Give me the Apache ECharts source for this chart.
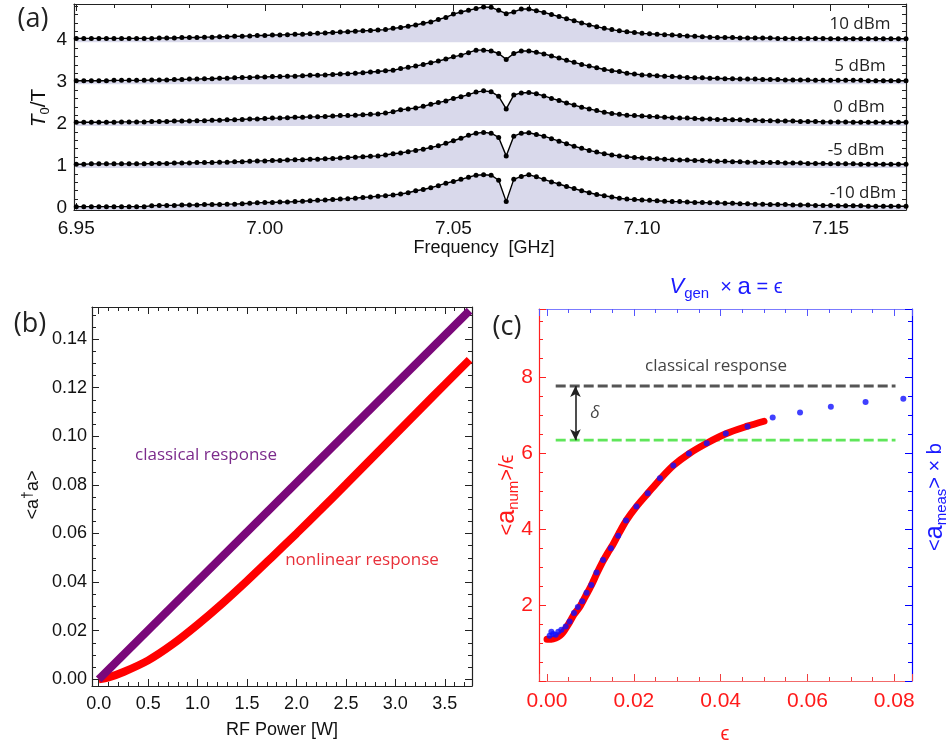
<!DOCTYPE html>
<html>
<head>
<meta charset="utf-8">
<script src="https://cdn.jsdelivr.net/npm/echarts@6.0.0/dist/echarts.min.js"></script>
<style>
html,body{margin:0;padding:0;background:#fff;}
#chart{width:952px;height:745px;}
</style>
</head>
<body>
<div id="chart"></div>
<script>
// ---------------- Panel (a): transmission traces ----------------
const freqStartGHz = 6.95;
const freqStepGHz = 0.002;
const traceLabels = ['-10 dBm', '-5 dBm', '0 dBm', '5 dBm', '10 dBm'];
const traceOffsets = [0, 1, 2, 3, 4];
const trace_m10dBm = [0.02,0.02,0.02,0.02,0.02,0.02,0.02,0.02,0.02,0.02,
0.04,0.05,0.05,0.05,0.06,0.06,0.06,0.07,0.07,0.07,0.08,0.08,0.09,0.10,
0.11,0.12,0.12,0.13,0.13,0.14,
0.15,0.16,0.17,0.18,0.19,0.20,0.21,0.22,0.24,0.25,0.27,
0.28,0.30,0.32,0.35,0.40,0.43,0.47,0.52,0.58,0.62,0.67,0.72,0.77,0.78,0.77,0.65,0.14,0.67,0.74,0.78,0.73,
0.67,0.61,0.56,0.50,0.45,0.40,0.35,0.31,0.28,0.25,0.22,
0.20,0.19,0.18,0.17,0.16,0.15,0.14,0.14,0.13,0.12,0.12,0.11,0.11,
0.10,0.10,0.09,0.09,0.08,0.08,0.07,0.07,0.07,0.06,0.06,0.06,0.05,0.05,0.05,0.04,0.04,0.04,0.04,0.03,0.03,0.03,0.03,0.03,0.03];
const trace_m5dBm = [1.03,1.03,1.04,1.04,1.04,1.04,1.04,1.04,1.04,1.04,
1.05,1.05,1.05,1.06,1.06,1.06,1.07,1.07,1.07,1.08,1.08,1.09,1.09,1.10,
1.11,1.11,1.12,1.12,1.13,1.14,
1.14,1.15,1.15,1.16,1.17,1.18,1.19,1.20,1.21,1.22,1.23,
1.25,1.28,1.30,1.33,1.36,1.39,1.43,1.47,1.53,1.59,1.65,1.72,1.77,1.79,1.77,1.67,1.23,1.70,1.77,1.78,1.74,
1.70,1.64,1.58,1.52,1.46,1.41,1.36,1.32,1.28,1.25,1.23,
1.21,1.19,1.18,1.17,1.16,1.15,1.14,1.13,1.13,1.12,1.12,1.11,1.10,
1.10,1.09,1.09,1.08,1.08,1.07,1.07,1.07,1.06,1.06,1.06,1.05,1.05,1.05,1.04,1.04,1.04,1.04,1.03,1.03,1.03,1.03,1.03,1.03,1.03];
const trace_0dBm = [2.03,2.03,2.03,2.03,2.03,2.03,2.04,2.04,2.04,2.04,
2.05,2.05,2.05,2.06,2.06,2.06,2.07,2.07,2.08,2.08,2.09,2.09,2.10,2.11,
2.11,2.12,2.13,2.13,2.14,2.15,
2.15,2.16,2.16,2.17,2.18,2.19,2.19,2.20,2.21,2.22,2.23,
2.25,2.28,2.33,2.35,2.37,2.41,2.46,2.50,2.54,2.60,2.64,2.69,2.75,2.78,2.76,2.65,2.35,2.68,2.73,2.74,2.71,
2.66,2.60,2.55,2.49,2.44,2.39,2.35,2.31,2.27,2.24,2.22,
2.20,2.19,2.18,2.17,2.16,2.15,2.14,2.13,2.13,2.12,2.11,2.11,2.10,
2.10,2.09,2.09,2.08,2.08,2.07,2.07,2.06,2.06,2.06,2.05,2.05,2.05,2.04,2.04,2.04,2.04,2.03,2.03,2.03,2.03,2.03,2.03,2.03,2.03];
const trace_5dBm = [3.02,3.02,3.02,3.02,3.02,3.03,3.03,3.03,3.03,3.03,
3.04,3.04,3.04,3.05,3.05,3.06,3.06,3.07,3.07,3.08,3.08,3.09,3.10,3.10,
3.11,3.11,3.12,3.12,3.13,3.13,
3.14,3.15,3.15,3.16,3.17,3.18,3.19,3.20,3.21,3.23,3.24,
3.26,3.27,3.31,3.34,3.37,3.41,3.45,3.49,3.54,3.59,3.63,3.69,3.75,3.75,3.73,3.67,3.53,3.67,3.73,3.73,3.70,
3.66,3.61,3.56,3.51,3.46,3.41,3.37,3.33,3.29,3.26,3.24,
3.20,3.18,3.16,3.15,3.14,3.13,3.12,3.11,3.10,3.09,3.09,3.08,3.08,
3.07,3.07,3.06,3.06,3.06,3.05,3.05,3.05,3.04,3.04,3.04,3.04,3.03,3.03,3.03,3.03,3.03,3.03,3.03,3.02,3.02,3.02,3.02,3.02,3.02];
const trace_10dBm = [4.03,4.03,4.03,4.03,4.03,4.03,4.03,4.03,4.03,4.03,
4.03,4.04,4.04,4.04,4.05,4.05,4.05,4.06,4.06,4.07,4.07,4.08,4.08,4.09,
4.10,4.10,4.11,4.11,4.12,4.13,
4.13,4.14,4.15,4.16,4.17,4.18,4.19,4.20,4.21,4.22,4.23,
4.24,4.27,4.29,4.32,4.35,4.39,4.42,4.48,4.53,4.61,4.66,4.70,4.74,4.78,4.77,4.70,4.62,4.66,4.73,4.73,4.69,
4.65,4.60,4.55,4.50,4.45,4.40,4.35,4.31,4.27,4.24,4.21,
4.19,4.17,4.15,4.14,4.13,4.12,4.11,4.10,4.09,4.08,4.07,4.06,4.05,
4.05,4.05,4.04,4.04,4.04,4.04,4.04,4.03,4.03,4.03,4.03,4.03,4.03,4.03,4.02,4.02,4.02,4.02,4.02,4.02,4.02,4.02,4.02,4.02,4.02];

// ---------------- Panel (b): photon number vs RF power ----------------
const rfPowerClassical = [0, 3.75];
const nClassical = [0, 0.1517];
const rfPowerNonlinear = [0, 0.1, 0.25, 0.5, 0.75, 1.0, 1.25, 1.5, 1.75, 2.0, 2.25, 2.5, 2.75, 3.0, 3.25, 3.5, 3.75];
const nNonlinear = [0, 0.0008, 0.0030, 0.0078, 0.0145, 0.0225, 0.0312, 0.0405, 0.0502, 0.0600, 0.0700, 0.0802, 0.0905, 0.1008, 0.1111, 0.1213, 0.1315];

// ---------------- Panel (c): normalised response vs epsilon ----------------
const epsNum = [0.0000,0.0010,0.0020,0.0030,0.0037,0.0045,0.0052,0.0062,0.0075,0.0088,0.0102,0.0115,0.0129,0.0140,0.0152,0.0165,0.0183,0.0206,0.0233,0.0262,0.0292,0.0328,0.0368,0.0412,0.0462,0.0500];
const aNum = [1.10,1.10,1.13,1.20,1.28,1.42,1.55,1.75,1.95,2.22,2.52,2.84,3.16,3.38,3.60,3.88,4.24,4.60,4.96,5.34,5.69,6.00,6.27,6.52,6.72,6.85];
const epsMeas = [0.0006,0.0010,0.0014,0.0020,0.0026,0.0033,0.0043,0.0052,0.0062,0.0071,0.0081,0.0091,0.0102,0.0114,0.0129,0.0147,0.0164,0.0182,0.0206,0.0232,0.0260,0.0291,0.0327,0.0368,0.0412,0.0462,0.0520,0.0583,0.0654,0.0734,0.0821];
const aMeas = [1.19,1.30,1.24,1.22,1.30,1.35,1.44,1.57,1.79,1.95,2.10,2.33,2.53,2.86,3.19,3.50,3.83,4.23,4.60,4.95,5.35,5.68,6.00,6.27,6.53,6.71,6.95,7.08,7.23,7.36,7.44];
const classicalLevel = 7.78;
const saturationLevel = 6.35;
const levelEpsRange = [0.002, 0.0803];
const deltaEps = 0.00655;

// ---------------- build ----------------
const chart = echarts.init(document.getElementById('chart'), null, {renderer: 'canvas'});
const TICKFONT = 'Liberation Sans, Arial, sans-serif';
const ANNFONT = '"Open Sans", "Noto Sans", sans-serif';

function valAxis(o) {
  const c = o.color || '#222';
  return {
    type: 'value', gridIndex: o.grid, position: o.pos,
    min: o.min, max: o.max, minInterval: o.step, maxInterval: o.step, splitNumber: 5,
    axisLine: {show: true, onZero: false, lineStyle: {color: c, width: 1.2}},
    axisTick: {show: true, inside: true, length: 7, lineStyle: {color: o.tickColor || c, width: 1}},
    minorTick: {show: true, splitNumber: o.minor, length: 4, lineStyle: {color: o.tickColor || c, width: 1}},
    splitLine: {show: false},
    axisLabel: o.labels ? {
      show: true, showMinLabel: false, showMaxLabel: false,
      formatter: o.fmt, fontSize: o.fontSize || 19, fontFamily: TICKFONT,
      color: o.labelColor || '#111', margin: o.margin
    } : {show: false}
  };
}

const xAxes = [
  valAxis({grid: 0, pos: 'bottom', min: 6.9494, max: 7.17, step: 0.05, minor: 5, labels: true, fmt: v => v.toFixed(2), margin: 9}),
  valAxis({grid: 0, pos: 'top', min: 6.9494, max: 7.17, step: 0.05, minor: 5, labels: false}),
  valAxis({grid: 1, pos: 'bottom', min: -0.068, max: 3.775, step: 0.5, minor: 5, labels: true, fmt: v => v.toFixed(1), margin: 9, fontSize: 18}),
  valAxis({grid: 1, pos: 'top', min: -0.068, max: 3.775, step: 0.5, minor: 5, labels: false}),
  valAxis({grid: 2, pos: 'bottom', min: -0.00185, max: 0.0841, step: 0.02, minor: 4, labels: true, fmt: v => v.toFixed(2), margin: 10, fontSize: 21, color: '#f26b6b', tickColor: '#f04040', labelColor: '#ff1a1a'}),
  valAxis({grid: 2, pos: 'top', min: -0.00185, max: 0.0841, step: 0.02, minor: 4, labels: false, color: '#7b7bff', tickColor: '#5555ff'})
];
const yAxes = [
  valAxis({grid: 0, pos: 'left', min: -0.06, max: 4.85, step: 1, minor: 5, labels: true, fmt: v => String(Math.round(v)), margin: 7}),
  valAxis({grid: 0, pos: 'right', min: -0.06, max: 4.85, step: 1, minor: 5, labels: false}),
  valAxis({grid: 1, pos: 'left', min: -0.00275, max: 0.1532, step: 0.02, minor: 4, labels: true, fmt: v => v.toFixed(2), margin: 5, fontSize: 18}),
  valAxis({grid: 1, pos: 'right', min: -0.00275, max: 0.1532, step: 0.02, minor: 4, labels: false}),
  valAxis({grid: 2, pos: 'left', min: 0, max: 9.81, step: 2, minor: 4, labels: true, fmt: v => String(Math.round(v)), margin: 6, fontSize: 21, color: '#ff2020', labelColor: '#ff1a1a'}),
  valAxis({grid: 2, pos: 'right', min: 0, max: 9.81, step: 2, minor: 4, labels: false, color: '#0000ff'})
];

const freqs = trace_m10dBm.map((_, i) => +(freqStartGHz + i * freqStepGHz).toFixed(3));
const traces = [trace_m10dBm, trace_m5dBm, trace_0dBm, trace_5dBm, trace_10dBm];
const series = [];
traces.forEach((tr, k) => {
  series.push({
    type: 'line', xAxisIndex: 0, yAxisIndex: 0,
    data: tr.map((v, i) => [freqs[i], v]),
    symbol: 'circle', symbolSize: 5, showSymbol: true,
    itemStyle: {color: '#000'},
    lineStyle: {color: '#000', width: 1.4},
    areaStyle: {color: '#d9d9eb', opacity: 1, origin: traceOffsets[k] - 0.06},
    silent: true, z: 2
  });
});

series.push({
  type: 'line', xAxisIndex: 2, yAxisIndex: 2,
  data: rfPowerClassical.map((x, i) => [x, nClassical[i]]),
  symbol: 'none', lineStyle: {color: '#7a087a', width: 8, cap: 'butt'}, silent: true, z: 3
});
series.push({
  type: 'line', xAxisIndex: 2, yAxisIndex: 2, smooth: 0.3,
  data: rfPowerNonlinear.map((x, i) => [x, nNonlinear[i]]),
  symbol: 'none', lineStyle: {color: '#ff0000', width: 8, cap: 'butt'}, silent: true, z: 2
});

// Panel (c)
series.push({
  type: 'line', xAxisIndex: 4, yAxisIndex: 4,
  data: levelEpsRange.map(x => [x, classicalLevel]),
  symbol: 'none', lineStyle: {color: '#555', width: 2.8, type: [10, 4]}, silent: true, z: 2,
  markLine: {
    silent: true, symbol: ['arrow', 'arrow'], symbolSize: [8, 11],
    label: {show: false},
    lineStyle: {color: '#222', width: 1.6, type: 'solid'},
    data: [[{coord: [deltaEps, classicalLevel]}, {coord: [deltaEps, saturationLevel]}]]
  }
});
series.push({
  type: 'line', xAxisIndex: 4, yAxisIndex: 4,
  data: levelEpsRange.map(x => [x, saturationLevel]),
  symbol: 'none', lineStyle: {color: '#5fe65a', width: 2.8, type: [10, 4]}, silent: true, z: 2
});
series.push({
  type: 'line', xAxisIndex: 4, yAxisIndex: 4, smooth: 0.3,
  data: epsNum.map((x, i) => [x, aNum[i]]),
  symbol: 'none', lineStyle: {color: '#ff0000', width: 7, cap: 'round'}, silent: true, z: 3
});
series.push({
  type: 'scatter', xAxisIndex: 4, yAxisIndex: 5,
  data: epsMeas.map((x, i) => [x, aMeas[i]]),
  symbol: 'circle', symbolSize: 6, itemStyle: {color: '#1010ff'}, silent: true, z: 4
});

function T(x, y, text, font, fill, extra) {
  return Object.assign({
    type: 'text', x: x, y: y, silent: true, z: 100,
    style: Object.assign({text: text, font: font, fill: fill, align: 'center', verticalAlign: 'middle'}, (extra && extra.style) || {})
  }, extra && extra.rotation != null ? {rotation: extra.rotation} : {});
}

const graphics = [
  T(33, 19, '(a)', '27px ' + ANNFONT, '#222'),
  T(30, 324, '(b)', '27px ' + ANNFONT, '#222'),
  T(507, 327, '(c)', '27px ' + ANNFONT, '#222'),
  T(860, 24, traceLabels[4], '17px ' + ANNFONT, '#222'),
  T(860, 66, traceLabels[3], '17px ' + ANNFONT, '#222'),
  T(859, 107, traceLabels[2], '17px ' + ANNFONT, '#222'),
  T(856, 150, traceLabels[1], '17px ' + ANNFONT, '#222'),
  T(863, 193, traceLabels[0], '17px ' + ANNFONT, '#222'),
  T(484, 248, 'Frequency  [GHz]', '18px ' + TICKFONT, '#111'),
  T(39, 108, '', '', '#111', {rotation: Math.PI / 2, style: {
    text: '{i|T}{s|0}{n|/T}',
    rich: {
      i: {fontSize: 21, fontStyle: 'italic', fontFamily: TICKFONT, lineHeight: 26, verticalAlign: 'middle', fill: '#111'},
      s: {fontSize: 13, fontFamily: TICKFONT, lineHeight: 12, verticalAlign: 'bottom', fill: '#111'},
      n: {fontSize: 21, fontFamily: TICKFONT, lineHeight: 26, verticalAlign: 'middle', fill: '#111'}
    }}}),
  T(282, 730, 'RF Power [W]', '18px ' + TICKFONT, '#111'),
  T(33, 495, '', '', '#111', {rotation: Math.PI / 2, style: {
    text: '{n|<a}{s|†}{n|a>}',
    rich: {
      n: {fontSize: 18, fontFamily: TICKFONT, lineHeight: 24, verticalAlign: 'middle', fill: '#111'},
      s: {fontSize: 14, fontFamily: TICKFONT, lineHeight: 12, verticalAlign: 'top', fill: '#111'}
    }}}),
  T(206, 455, 'classical response', '17px ' + ANNFONT, '#7b2a8b'),
  T(362, 560, 'nonlinear response', '17px ' + ANNFONT, '#e8303a'),
  T(716, 366, 'classical response', '17px ' + ANNFONT, '#444'),
  T(595, 413, 'δ', 'italic 17px ' + ANNFONT, '#444'),
  T(726, 287, '', '', '#1a1aff', {style: {
    text: '{v|V}{s|gen}{n|  × }{a|a}{n| = ϵ}',
    rich: {
      v: {fontSize: 22, fontStyle: 'italic', fontFamily: TICKFONT, lineHeight: 28, verticalAlign: 'middle', fill: '#1a1aff'},
      s: {fontSize: 15, fontFamily: TICKFONT, lineHeight: 14, verticalAlign: 'bottom', fill: '#1a1aff'},
      n: {fontSize: 20, fontFamily: TICKFONT, lineHeight: 28, verticalAlign: 'middle', fill: '#1a1aff'},
      a: {fontSize: 24, fontFamily: TICKFONT, lineHeight: 28, verticalAlign: 'middle', fill: '#1a1aff'}
    }}}),
  T(507, 495, '', '', '#ff1a1a', {rotation: Math.PI / 2, style: {
    text: '{n|<}{a|a}{s|num}{n|>/ϵ}',
    rich: {
      n: {fontSize: 20, fontFamily: TICKFONT, lineHeight: 28, verticalAlign: 'middle', fill: '#ff1a1a'},
      a: {fontSize: 25, fontFamily: TICKFONT, lineHeight: 28, verticalAlign: 'middle', fill: '#ff1a1a'},
      s: {fontSize: 15, fontFamily: TICKFONT, lineHeight: 14, verticalAlign: 'bottom', fill: '#ff1a1a'}
    }}}),
  T(935, 497, '', '', '#1a1aff', {rotation: Math.PI / 2, style: {
    text: '{n|<}{a|a}{s|meas}{n|> × b}',
    rich: {
      n: {fontSize: 20, fontFamily: TICKFONT, lineHeight: 28, verticalAlign: 'middle', fill: '#1a1aff'},
      a: {fontSize: 25, fontFamily: TICKFONT, lineHeight: 28, verticalAlign: 'middle', fill: '#1a1aff'},
      s: {fontSize: 15, fontFamily: TICKFONT, lineHeight: 14, verticalAlign: 'bottom', fill: '#1a1aff'}
    }}}),
  T(725, 734, 'ϵ', '20px ' + TICKFONT, '#ff1a1a')
];

chart.setOption({
  animation: false,
  backgroundColor: '#fff',
  grid: [
    {left: 74, top: 4, width: 832, height: 206, containLabel: false},
    {left: 92, top: 307, width: 380, height: 379, containLabel: false},
    {left: 539, top: 309, width: 373, height: 372, containLabel: false}
  ],
  xAxis: xAxes,
  yAxis: yAxes,
  series: series,
  graphic: graphics
});
</script>
</body>
</html>
